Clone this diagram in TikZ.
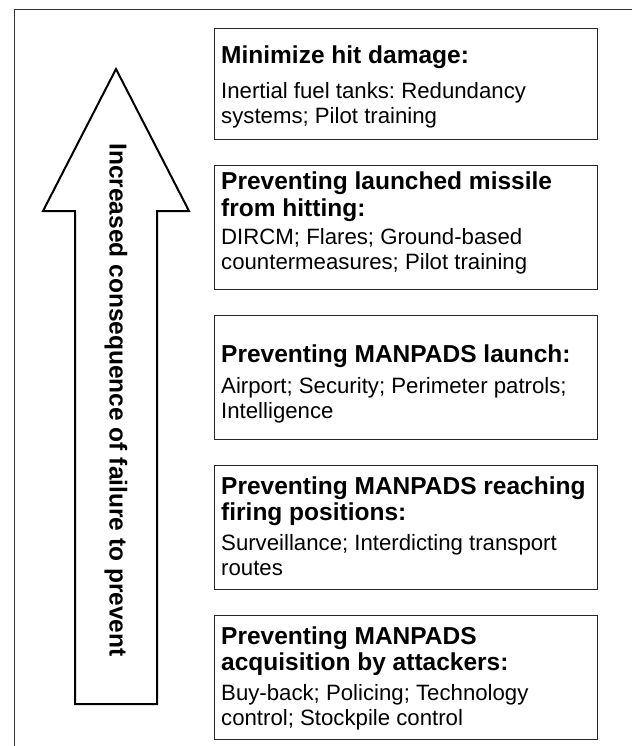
\documentclass[tikz,border=0pt]{standalone}
\usepackage{fontspec}
\setmainfont{Liberation Sans}
\usepackage{tikz}
\usetikzlibrary{positioning}
\frenchspacing

\begin{document}
\begin{tikzpicture}[x=1pt, y=-1pt,
    panel/.style={draw=black!85, line width=1.1pt, anchor=north west, inner sep=0pt,
        minimum width=383pt, minimum height=124pt},
    heading/.style={anchor=north west, align=left, inner sep=0pt,
        font=\bfseries\fontsize{24.5}{26.5}\selectfont},
    items/.style={anchor=north west, align=left, inner sep=0pt,
        font=\fontsize{22.2}{25}\selectfont}]

\useasboundingbox (0,0) rectangle (632,746);

% Outer frame (top and left edges)
\draw[line width=1pt, black!80] (632,10) -- (14,10) -- (14,746);

% Big upward arrow
\draw[line width=2pt, line join=miter, fill=white]
    (116,69) -- (189,211) -- (157,211) -- (157,704) -- (75,704)
    -- (75,211) -- (43,211) -- cycle;
\node[font=\bfseries\fontsize{24.5}{26}\selectfont, rotate=-90, inner sep=0pt] (consq) at (116,400)
    {Increased consequence of failure to prevent};

% Panel 1
\node[panel, minimum height=111pt] (damage) at (214,28) {};
\node[heading] (damagehead) at (221,45.5) {Minimize hit damage:};
\node[items] (damagetext) at (221,82) {Inertial fuel tanks: Redundancy\\systems; Pilot training};

% Panel 2
\node[panel] (hitting) at (214,165) {};
\node[heading] (hittinghead) at (221,172) {Preventing launched missile\\from hitting:};
\node[items] (hittingtext) at (221,228.5) {DIRCM; Flares; Ground-based\\countermeasures; Pilot training};

% Panel 3
\node[panel] (launch) at (214,315) {};
\node[heading] (launchhead) at (221,344.5) {Preventing MANPADS launch:};
\node[items] (launchtext) at (221,377) {Airport; Security; Perimeter patrols;\\Intelligence};

% Panel 4
\node[panel] (firing) at (214,465) {};
\node[heading] (firinghead) at (221,476.5) {Preventing MANPADS reaching\\firing positions:};
\node[items] (firingtext) at (221,534) {Surveillance; Interdicting transport\\routes};

% Panel 5
\node[panel] (acquire) at (214,615) {};
\node[heading] (acquirehead) at (221,626.5) {Preventing MANPADS\\acquisition by attackers:};
\node[items] (acquiretext) at (221,684) {Buy-back; Policing; Technology\\control; Stockpile control};

\end{tikzpicture}
\end{document}
